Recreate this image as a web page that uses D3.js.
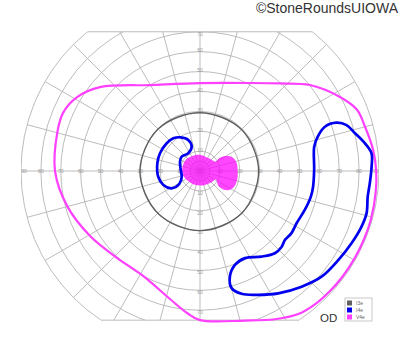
<!DOCTYPE html>
<html>
<head>
<meta charset="utf-8">
<script src="https://cdn.jsdelivr.net/npm/d3@7"></script>
<style>
body { margin: 0; background: #fff; }
</style>
</head>
<body>
<script>
// isopters: meridian angle (deg, counter-clockwise from 3 o'clock) and eccentricity (deg)
var v4eAngle = [0, 6.9, 15, 21.4, 27.9, 38, 47.6, 60.4, 90, 120.2, 140, 149, 157, 165, 180,
                194.7, 210.6, 226.3, 241.5, 256.8, 264.8, 270, 286.7, 296.8, 305.2, 311.4,
                317.5, 323.4, 330.7, 337.5, 344.1, 352.8];
var v4eEcc   = [88.6, 87.7, 85.9, 84.7, 79.6, 70.2, 59.6, 50.9, 44.2, 50, 65.6, 72.1, 74.8, 74.3, 72.9,
                69.1, 64.2, 60.4, 60, 66.1, 71.7, 75, 78.5, 83.5, 87.5, 88.6,
                89, 89.2, 89.3, 89.3, 89.3, 89];

var i4eAngle = [19.5, 19.5, 16.2, 12, 0.5, -7.9, -13, -20.4, -28.4, -34.2, -39.1, -42.8, -47.7,
                -54.3, -62.7, -69.6, -74.2, -74.9, -71.3, -64.8, -57.4, -48.7, -41, -32.8, -25.5,
                -19, -14.2, -8.7, -4.1, 1.4, 5.9, 9.5, 13.7, 17.4];
var i4eEcc   = [72.8, 66.6, 61.6, 58.7, 57.4, 57.4, 57.2, 56.2, 55.2, 55.6, 55, 56, 55.9,
                53, 49.3, 50.4, 55.2, 61, 65.2, 68.8, 73, 77.4, 81, 82.7, 84.4,
                85.9, 86.4, 85.3, 85.6, 86.3, 86.7, 84.1, 80.2, 77.2];

var i4eAngle2 = [119.8, 110.7, 108.9, 123.5, 142, 155, 177, 197.3, 212.1, 211.4, 200.9, 187.8,
                 169.8, 156.1, 140.2, 129.2];
var i4eEcc2   = [19.5, 16.7, 12.9, 10.7, 11.7, 11.1, 9.7, 9.6, 12.3, 16.7, 19.7, 21.2,
                 21.8, 22, 21.8, 21.2];

var i3eAngle = [0, 45, 90, 135, 180, 225, 270, 315];
var i3eEcc   = [29.5, 29.5, 29.3, 29.8, 30.2, 30, 30, 29.8];

// filled central area
var centerAngle = [0, 11.8, 22.9, 30, 33.7, 30.8, 54.6, 88, 117, 142, 171, 199, 224, 253, 286,
                   319, 332, 320.5, 325, 335, 349];
var centerEcc   = [18.9, 18.9, 17.7, 15, 11.5, 9.2, 7.8, 8.1, 8.5, 9.1, 9.0, 8.6, 7.7, 7.4, 7.4,
                   8.2, 9.0, 12.4, 16.8, 18.9, 19.2];

var tickLabels = [10, 20, 30, 40, 50, 60, 70, 80, 90];
var legendNames = ["I3e", "I4e", "V4e"];
var legendColors = ["#606060", "#0000ee", "#ff40ff"];

var width = 400, height = 352;
var cx = 200, cy = 171;
var topLimit = 70, bottomLimit = 75;

var r = d3.scaleLinear().domain([0, 90]).range([0, 179]);

var svg = d3.select("body")
    .append("svg")
        .attr("width", width)
        .attr("height", height);

var g = svg.append("g")
    .attr("transform", "translate(" + cx + "," + cy + ")");

g.append("clipPath")
    .attr("id", "field")
  .append("rect")
    .attr("x", -r(90))
    .attr("y", -r(topLimit))
    .attr("width", 2 * r(90))
    .attr("height", r(topLimit) + r(bottomLimit));

var grid = g.append("g").attr("clip-path", "url(#field)");

// circles
grid.selectAll("circle")
    .data([5].concat(tickLabels))
    .enter()
    .append("circle")
    .attr("r", function(d) { return r(d); })
    .attr("fill", "none")
    .attr("stroke", "#b4b4b4")
    .style("stroke-width", "0.9px");

// spokes every 15 deg
grid.selectAll("line.spoke")
    .data(d3.range(0, 360, 15))
    .enter()
    .append("line")
    .attr("class", "spoke")
    .attr("x1", 0).attr("y1", 0)
    .attr("x2", function(d) { return r(90) * Math.cos(d * Math.PI / 180); })
    .attr("y2", function(d) { return -r(90) * Math.sin(d * Math.PI / 180); })
    .attr("stroke", "#b4b4b4")
    .style("stroke-width", "0.9px");

// top / bottom cut
[-r(topLimit), r(bottomLimit)].forEach(function(y) {
    var half = Math.sqrt(r(90) * r(90) - y * y);
    g.append("line")
        .attr("x1", -half).attr("x2", half)
        .attr("y1", y).attr("y2", y)
        .attr("stroke", "#b4b4b4")
        .style("stroke-width", "0.9px");
});

// axis labels
var labels = [];
tickLabels.forEach(function(v) {
    var p = r(Math.min(v, 88.5));
    labels.push({t: v, x: p, y: 0});
    labels.push({t: v, x: -p, y: 0});
    if (v <= topLimit) labels.push({t: v, x: 0, y: -Math.min(r(v), r(topLimit) - 3) - 1});
    if (v <= 70) labels.push({t: v, x: 0, y: r(v) + 2});
});
g.selectAll("text.tick")
    .data(labels)
    .enter()
    .append("text")
    .attr("class", "tick")
    .attr("x", function(d) { return d.x; })
    .attr("y", function(d) { return d.y; })
    .attr("dy", "0.35em")
    .attr("text-anchor", "middle")
    .attr("fill", "#9a9a9a")
    .style("font-family", "Liberation Sans, Arial, sans-serif")
    .style("font-size", "5px")
    .text(function(d) { return d.t; });

function isopter(angles, eccs) {
    var pts = angles.map(function(a, i) { return [a, eccs[i]]; });
    return d3.lineRadial()
        .angle(function(d) { return (90 - d[0]) * Math.PI / 180; })
        .radius(function(d) { return r(d[1]); })
        .curve(d3.curveCatmullRomClosed.alpha(0.5))(pts);
}

// central filled area
g.append("path")
    .attr("d", isopter(centerAngle, centerEcc))
    .attr("fill", "#ff00ff")
    .style("opacity", 0.72);

g.append("path")
    .attr("d", isopter(i3eAngle, i3eEcc))
    .attr("fill", "none")
    .attr("stroke", legendColors[0])
    .style("stroke-width", "1.4px");

g.append("path")
    .attr("d", isopter(v4eAngle, v4eEcc))
    .attr("fill", "none")
    .attr("stroke", legendColors[2])
    .style("stroke-width", "2.2px");

g.append("path")
    .attr("d", isopter(i4eAngle, i4eEcc))
    .attr("fill", "none")
    .attr("stroke", legendColors[1])
    .style("stroke-width", "2.7px");

g.append("path")
    .attr("d", isopter(i4eAngle2, i4eEcc2))
    .attr("fill", "none")
    .attr("stroke", legendColors[1])
    .style("stroke-width", "2.7px");

// legend
var legend = svg.append("g").attr("transform", "translate(345,298)");
legend.append("rect")
    .attr("width", 27).attr("height", 23)
    .attr("fill", "#fff")
    .attr("stroke", "#bbb")
    .style("stroke-width", "0.8px");
legend.selectAll("rect.sw")
    .data(legendNames)
    .enter()
    .append("rect")
    .attr("class", "sw")
    .attr("x", 2)
    .attr("y", function(d, i) { return 2.5 + i * 7; })
    .attr("width", 5).attr("height", 5)
    .attr("fill", function(d, i) { return legendColors[i]; });
legend.selectAll("text")
    .data(legendNames)
    .enter()
    .append("text")
    .attr("x", 11)
    .attr("y", function(d, i) { return 5 + i * 7; })
    .attr("dy", "0.35em")
    .attr("fill", "#666")
    .style("font-family", "Liberation Sans, Arial, sans-serif")
    .style("font-size", "5px")
    .text(function(d) { return d; });

svg.append("text")
    .attr("x", 320)
    .attr("y", 322)
    .attr("fill", "#333")
    .style("font-family", "Liberation Sans, Arial, sans-serif")
    .style("font-size", "11.5px")
    .text("OD");

svg.append("text")
    .attr("x", 398)
    .attr("y", 12.5)
    .attr("text-anchor", "end")
    .attr("fill", "#333")
    .style("font-family", "Liberation Sans, Arial, sans-serif")
    .style("font-size", "14px")
    .text("©StoneRoundsUIOWA");
</script>
</body>
</html>
